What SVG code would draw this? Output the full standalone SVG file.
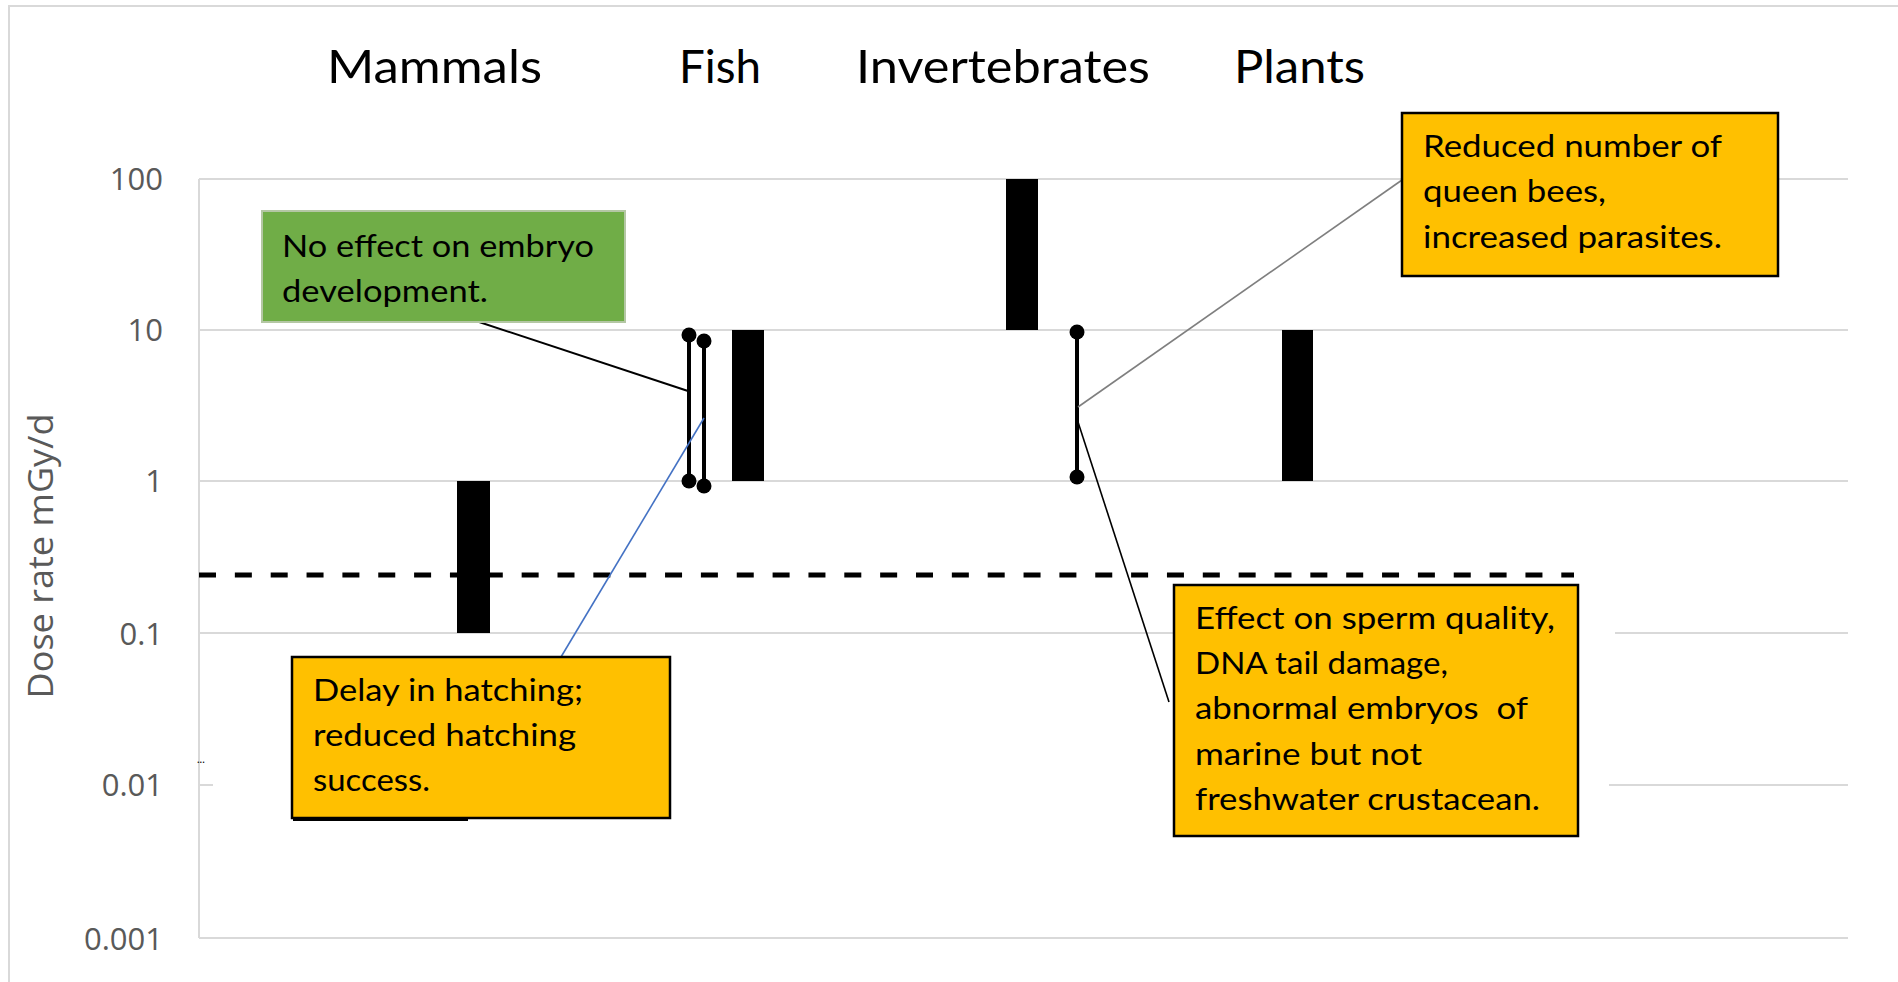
<svg xmlns="http://www.w3.org/2000/svg" width="1898" height="982" viewBox="0 0 1898 982">
<style>
.grid{stroke:#d9d9d9;stroke-width:2;fill:none}
.tick{font-family:"Open Sans","Liberation Sans",sans-serif;font-size:31px;fill:#595959;text-anchor:end}
.axtitle{font-family:"Open Sans","Liberation Sans",sans-serif;font-size:35px;fill:#595959;text-anchor:middle}
.cat{font-family:Lato,"Liberation Sans",sans-serif;font-size:46px;fill:#000}
.note{font-family:Lato,"Liberation Sans",sans-serif;font-size:30px;fill:#000}
.bar{fill:#000}
.eb{stroke:#000;stroke-width:4}
.dot{fill:#000}
.orange{fill:#FFC000;stroke:#000;stroke-width:2.5}
.green{fill:#70AD47;stroke:#B4C7A4;stroke-width:2}
</style>
<rect x="0" y="0" width="1898" height="982" fill="#fff"/>
<rect x="9" y="6" width="1900" height="1000" fill="none" stroke="#d9d9d9" stroke-width="2"/>

<g id="axes">
<line class="grid" x1="199" y1="179" x2="1848" y2="179"/>
<line class="grid" x1="199" y1="330" x2="1848" y2="330"/>
<line class="grid" x1="199" y1="481" x2="1848" y2="481"/>
<line class="grid" x1="199" y1="633" x2="1579" y2="633"/>
<line class="grid" x1="1615" y1="633" x2="1848" y2="633"/>
<line class="grid" x1="199" y1="785" x2="213" y2="785"/>
<line class="grid" x1="1609" y1="785" x2="1848" y2="785"/>
<line class="grid" x1="199" y1="938" x2="1848" y2="938"/>
<line class="grid" x1="199" y1="179" x2="199" y2="938"/>
<text class="tick" x="163" y="190">100</text>
<text class="tick" x="163" y="341">10</text>
<text class="tick" x="163" y="492">1</text>
<text class="tick" x="163" y="645">0.1</text>
<text class="tick" x="163" y="796">0.01</text>
<text class="tick" x="163" y="950">0.001</text>
<text class="axtitle" transform="translate(53,556) rotate(-90)" textLength="285" lengthAdjust="spacingAndGlyphs">Dose rate mGy/d</text>
<text x="197" y="763" font-family="Lato,'Liberation Sans',sans-serif" font-size="11" fill="#000">...</text>
</g>

<g id="categories">
<text class="cat" x="327" y="83" textLength="215" lengthAdjust="spacingAndGlyphs">Mammals</text>
<text class="cat" x="679" y="83" textLength="82" lengthAdjust="spacingAndGlyphs">Fish</text>
<text class="cat" x="856" y="83" textLength="294" lengthAdjust="spacingAndGlyphs">Invertebrates</text>
<text class="cat" x="1234" y="83" textLength="131" lengthAdjust="spacingAndGlyphs">Plants</text>
</g>

<line id="threshold" x1="199" y1="575" x2="1574" y2="575" stroke="#000" stroke-width="5" stroke-dasharray="17 18.85"/>

<g id="bar-mammals"><rect class="bar" x="457" y="481" width="33" height="152"/></g>
<g id="bar-fish"><rect class="bar" x="732" y="330" width="32" height="151"/></g>
<g id="bar-invertebrates"><rect class="bar" x="1006" y="179" width="32" height="151"/></g>
<g id="bar-plants"><rect class="bar" x="1282" y="330" width="31" height="151"/></g>

<g id="errorbar-fish-1">
<line class="eb" x1="689" y1="335" x2="689" y2="481"/>
<circle class="dot" cx="689" cy="335" r="7.5"/>
<circle class="dot" cx="689" cy="481" r="7.5"/>
</g>
<g id="errorbar-fish-2">
<line class="eb" x1="704" y1="341" x2="704" y2="486"/>
<circle class="dot" cx="704" cy="341" r="7.5"/>
<circle class="dot" cx="704" cy="486" r="7.5"/>
</g>
<g id="errorbar-invertebrates">
<line class="eb" x1="1077" y1="332" x2="1077" y2="477"/>
<circle class="dot" cx="1077" cy="332" r="7.5"/>
<circle class="dot" cx="1077" cy="477" r="7.5"/>
</g>

<g id="connectors">
<line x1="470" y1="319" x2="688" y2="391" stroke="#000" stroke-width="2"/>
<line x1="704" y1="418" x2="561" y2="657" stroke="#4472C4" stroke-width="1.6"/>
<line x1="1078" y1="407" x2="1402" y2="180" stroke="#7F7F7F" stroke-width="1.6"/>
<line x1="1078" y1="422" x2="1169" y2="702" stroke="#000" stroke-width="1.6"/>
</g>

<g id="note-no-effect">
<rect class="green" x="262" y="211" width="363" height="111"/>
<text class="note" x="282" y="257" textLength="312" lengthAdjust="spacingAndGlyphs">No effect on embryo</text>
<text class="note" x="282" y="302" textLength="206" lengthAdjust="spacingAndGlyphs">development.</text>
</g>

<g id="note-delay">
<line x1="293" y1="819.5" x2="468" y2="819.5" stroke="#000" stroke-width="3"/>
<rect class="orange" x="292" y="657" width="378" height="161"/>
<text class="note" x="313" y="701" textLength="270" lengthAdjust="spacingAndGlyphs">Delay in hatching;</text>
<text class="note" x="313" y="746" textLength="263" lengthAdjust="spacingAndGlyphs">reduced hatching</text>
<text class="note" x="313" y="791" textLength="117" lengthAdjust="spacingAndGlyphs">success.</text>
</g>

<g id="note-queen-bees">
<rect class="orange" x="1402" y="113" width="376" height="163"/>
<text class="note" x="1423" y="157" textLength="299" lengthAdjust="spacingAndGlyphs">Reduced number of</text>
<text class="note" x="1423" y="202" textLength="183" lengthAdjust="spacingAndGlyphs">queen bees,</text>
<text class="note" x="1423" y="248" textLength="299" lengthAdjust="spacingAndGlyphs">increased parasites.</text>
</g>

<g id="note-sperm">
<rect class="orange" x="1174" y="585" width="404" height="251"/>
<text class="note" x="1195" y="629" textLength="360" lengthAdjust="spacingAndGlyphs">Effect on sperm quality,</text>
<text class="note" x="1195" y="674" textLength="253" lengthAdjust="spacingAndGlyphs">DNA tail damage,</text>
<text class="note" x="1195" y="719" textLength="333" lengthAdjust="spacingAndGlyphs" xml:space="preserve">abnormal embryos  of</text>
<text class="note" x="1195" y="765" textLength="227" lengthAdjust="spacingAndGlyphs">marine but not</text>
<text class="note" x="1195" y="810" textLength="345" lengthAdjust="spacingAndGlyphs">freshwater crustacean.</text>
</g>
</svg>
